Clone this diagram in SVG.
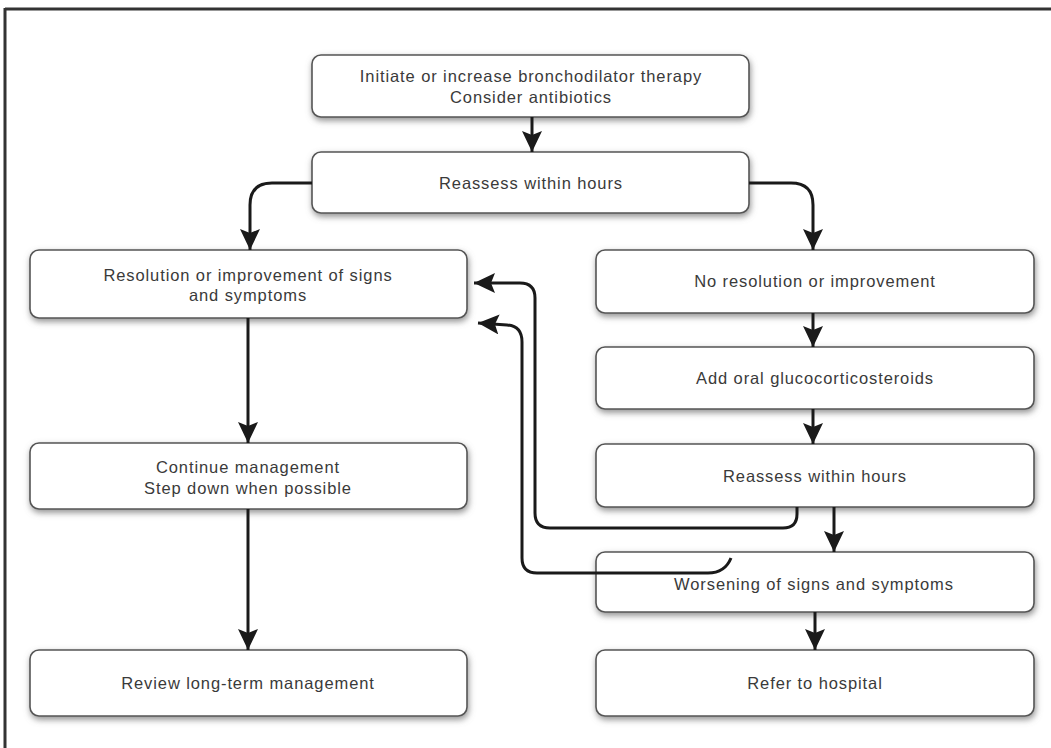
<svg xmlns="http://www.w3.org/2000/svg" width="1051" height="748" viewBox="0 0 1051 748">
<defs>
<filter id="sh" x="-10%" y="-30%" width="120%" height="160%">
<feDropShadow dx="1" dy="3" stdDeviation="3" flood-color="#777" flood-opacity="0.8"/>
</filter>
<marker id="ah" markerUnits="userSpaceOnUse" markerWidth="24" markerHeight="22" refX="21" refY="10" orient="auto" viewBox="0 0 24 22">
<path d="M0,0 L21,10 L0,20 L4,10 z" fill="#1a1a1a"/>
</marker>
<style>
.box{fill:#fff;stroke:#555;stroke-width:1.6;filter:url(#sh)}
.t{font-family:"Liberation Sans",Arial,sans-serif;font-size:16.5px;letter-spacing:0.9px;fill:#3a3a3a;text-anchor:middle}
.ca{fill:none;stroke:#1a1a1a;stroke-width:3;marker-end:url(#ah)}
</style>
</defs>
<rect width="1051" height="748" fill="#fff"/>
<g id="frame">
<line x1="5" y1="9" x2="1051" y2="9" stroke="#333" stroke-width="3"/>
<line x1="5" y1="8" x2="5" y2="748" stroke="#333" stroke-width="3"/>
</g>
<g id="n1"><rect class="box" x="312" y="55" width="437" height="62" rx="9"/><text class="t" x="531" y="82">Initiate or increase bronchodilator therapy</text><text class="t" x="531" y="103">Consider antibiotics</text></g>
<g id="n2"><rect class="box" x="312" y="152" width="437" height="61" rx="9"/><text class="t" x="531" y="189">Reassess within hours</text></g>
<g id="n3"><rect class="box" x="30" y="250" width="437" height="68" rx="9"/><text class="t" x="248" y="281">Resolution or improvement of signs</text><text class="t" x="248" y="301">and symptoms</text></g>
<g id="n4"><rect class="box" x="30" y="443" width="437" height="66" rx="9"/><text class="t" x="248" y="473">Continue management</text><text class="t" x="248" y="494">Step down when possible</text></g>
<g id="n5"><rect class="box" x="30" y="650" width="437" height="66" rx="9"/><text class="t" x="248" y="689">Review long-term management</text></g>
<g id="n6"><rect class="box" x="596" y="250" width="438" height="63" rx="9"/><text class="t" x="815" y="287">No resolution or improvement</text></g>
<g id="n7"><rect class="box" x="596" y="347" width="438" height="62" rx="9"/><text class="t" x="815" y="384">Add oral glucocorticosteroids</text></g>
<g id="n8"><rect class="box" x="596" y="444" width="438" height="63" rx="9"/><text class="t" x="815" y="482">Reassess within hours</text></g>
<g id="n9"><rect class="box" x="596" y="552" width="438" height="60" rx="9"/><text class="t" x="814" y="590">Worsening of signs and symptoms</text></g>
<g id="n10"><rect class="box" x="596" y="650" width="438" height="66" rx="9"/><text class="t" x="815" y="689">Refer to hospital</text></g>
<g id="connectors">
<path class="ca" d="M532,117 V152"/>
<path class="ca" d="M312,183 H272 Q250,183 250,205 V250"/>
<path class="ca" d="M749,183 H791 Q813,183 813,205 V250"/>
<path class="ca" d="M248,318 V443"/>
<path class="ca" d="M248,509 V650"/>
<path class="ca" d="M813,313 V347"/>
<path class="ca" d="M813,409 V444"/>
<path class="ca" d="M834,507 V552"/>
<path class="ca" d="M815,612 V650"/>
<path class="ca" d="M797,507 V514 Q797,528 783,528 H550 Q535,528 535,513 V298 Q535,283 520,283 H474"/>
<path class="ca" d="M731,558 Q725,573 708,573 H537 Q522,573 522,558 V342 Q522,326 507,325 L478,323"/>
</g>
</svg>
